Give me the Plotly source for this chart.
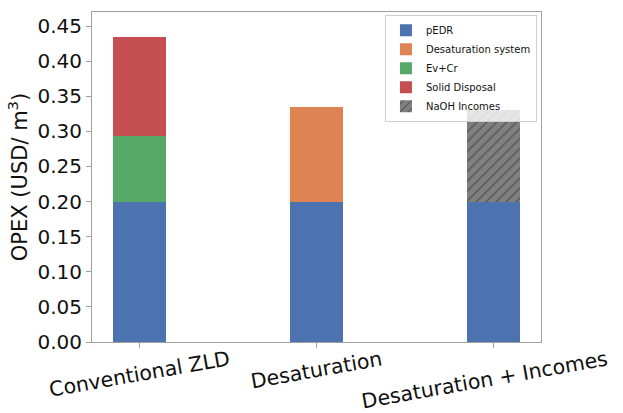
import plotly.graph_objects as go

categories = ["Conventional ZLD", "Desaturation", "Desaturation + Incomes"]
pedr = [0.20, 0.20, 0.20]
desat_system = [0.135]
ev_cr = [0.093]
solid_disposal = [0.141]
naoh_incomes = [0.131]
y_ticks = [0.00, 0.05, 0.10, 0.15, 0.20, 0.25, 0.30, 0.35, 0.40, 0.45]

font = "DejaVu Sans"
fig = go.Figure()
w = 0.3
fig.add_trace(go.Bar(x=categories, y=pedr, name="pEDR", width=w,
                     marker=dict(color="#4C72B0", line=dict(width=0))))
fig.add_trace(go.Bar(x=[categories[1]], y=desat_system, name="Desaturation system", width=w,
                     marker=dict(color="#DD8452", line=dict(width=0))))
fig.add_trace(go.Bar(x=[categories[0]], y=ev_cr, name="Ev+Cr", width=w,
                     marker=dict(color="#55A868", line=dict(width=0))))
fig.add_trace(go.Bar(x=[categories[0]], y=solid_disposal, name="Solid Disposal", width=w,
                     marker=dict(color="#C44E52", line=dict(width=0))))
fig.add_trace(go.Bar(x=[categories[2]], y=naoh_incomes, name="NaOH Incomes", width=w,
                     marker=dict(color="#808080", line=dict(width=0),
                                 pattern=dict(shape="/", fgcolor="#2a2a2a", bgcolor="#808080",
                                              size=7, solidity=0.2))))

for i, c in enumerate(categories):
    fig.add_annotation(x=c, xref="x", y=-0.01, yref="paper", text=c, showarrow=False,
                       textangle=-10, xanchor="center", yanchor="top",
                       xshift=-9 if i == 2 else 0, borderpad=0,
                       font=dict(family=font, size=20.5, color="#111"))

fig.update_layout(
    width=623, height=413,
    margin=dict(l=92, r=82, t=12, b=71),
    paper_bgcolor="white", plot_bgcolor="white",
    barmode="stack",
    font=dict(family=font, color="#111"),
    showlegend=True,
    legend=dict(x=0.991, y=0.992, xanchor="right", yanchor="top",
                bgcolor="rgba(255,255,255,0.8)", bordercolor="#d0d0d0", borderwidth=1,
                font=dict(family=font, size=10, color="#111"),
                traceorder="normal", tracegroupgap=0),
    xaxis=dict(range=[-0.27, 2.27], showticklabels=False, ticks="outside",
               ticklen=5, tickcolor="#a0a0a0", showline=True, linecolor="#a0a0a0",
               mirror=True, showgrid=False, zeroline=False, automargin=False),
    yaxis=dict(range=[0, 0.47], tickvals=y_ticks, ticktext=[f"{v:.2f}" for v in y_ticks],
               ticks="outside", ticklen=5, tickcolor="#a0a0a0", showline=True,
               linecolor="#a0a0a0", mirror=True, showgrid=False, zeroline=False,
               automargin=False,
               tickfont=dict(family=font, size=20, color="#111"),
               title=dict(text="OPEX (USD/ m<sup>3</sup>)", standoff=4,
                          font=dict(family=font, size=21, color="#111"))),
)

fig.write_html("out.html", config={"displayModeBar": False},
               post_script="document.body.style.margin='0px';")
